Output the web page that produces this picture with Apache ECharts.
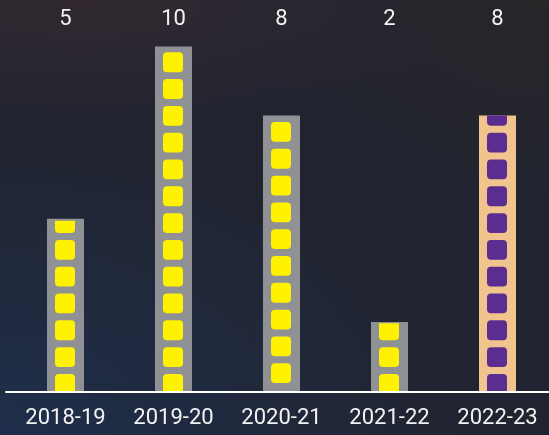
<!DOCTYPE html>
<html><head><meta charset="utf-8">
<script src="https://cdn.jsdelivr.net/npm/echarts@6/dist/echarts.min.js"></script>
<style>html,body{margin:0;padding:0;width:549px;height:435px;overflow:hidden;
background:
radial-gradient(ellipse 460px 300px at 0% 100%, rgba(30,50,84,.75), rgba(30,50,84,0) 100%),
radial-gradient(ellipse 400px 130px at 15% 0%, rgba(56,42,48,.7), rgba(56,42,48,0) 100%),
radial-gradient(ellipse 300px 200px at 100% 0%, rgba(44,38,38,.7), rgba(44,38,38,0) 100%),
#212430;}
#c{width:549px;height:435px}</style></head>
<body><div id="c"></div>
<script>
var categories = ['2018-19','2019-20','2020-21','2021-22','2022-23'];
var values = [5,10,8,2,8];
var barColors = ['#909195','#909195','#909195','#909195','#f0c48c'];
var squareColors = ['#fff200','#fff200','#fff200','#fff200','#5b2d90'];
var squarePhase = [0,0,0.31,0,0];
var topInset = [0.06,0.06,0.06,0.03,0];
var pitch = 0.778, squareSize = 0.575, bottomStart = -0.08;

var chart = echarts.init(document.getElementById('c'));
chart.setOption({
  animation:false,
  grid:[
    {left:11.5,width:540,top:46.5,bottom:44,outerBoundsMode:'none'},
    {left:6,right:0,top:47,bottom:43,outerBoundsMode:'none'}
  ],
  xAxis:[
    {type:'category',data:categories,gridIndex:0,
     axisLine:{show:false},axisTick:{show:false},
     axisLabel:{color:'#f2f2f2',fontFamily:'Roboto',fontSize:22,margin:16,interval:0,hideOverlap:false}},
    {type:'category',data:values.map(String),gridIndex:0,position:'top',
     axisLine:{show:false},axisTick:{show:false},
     axisLabel:{color:'#f2f2f2',fontFamily:'Roboto',fontSize:22,margin:16.5,interval:0,hideOverlap:false}},
    {type:'value',gridIndex:1,min:0,max:1,
     axisLine:{show:true,onZero:false,lineStyle:{color:'#ffffff',width:2}},
     axisTick:{show:false},axisLabel:{show:false},splitLine:{show:false}}
  ],
  yAxis:[
    {type:'value',gridIndex:0,min:0,max:10,show:false},
    {type:'value',gridIndex:1,min:0,max:1,show:false}
  ],
  series:[
    {type:'bar',xAxisIndex:0,yAxisIndex:0,barWidth:37,
     data:values.map(function(v,i){return {value:v,itemStyle:{color:barColors[i]}};})},
    {type:'custom',xAxisIndex:0,yAxisIndex:0,silent:true,z:3,
     data:values.map(function(v,i){return [i,v];}),
     encode:{x:0,y:1},
     renderItem:function(params,api){
       var i=api.value(0), v=api.value(1);
       var cx=Math.floor(api.coord([i,0])[0]);
       var halfW=10, kids=[];
       var ceil=v-topInset[i];
       for(var b=bottomStart+squarePhase[i]; b<ceil; b+=pitch){
         var lo=Math.max(b,0), hi=Math.min(b+squareSize,ceil);
         if(hi<=lo) continue;
         var yTop=api.coord([i,hi])[1], yBot=api.coord([i,lo])[1];
         var r=4;
         var clipT=(b+squareSize>ceil), clipB=(b<0);
         kids.push({type:'rect',
           shape:{x:cx-halfW,y:yTop,width:halfW*2,height:yBot-yTop,
                  r:[clipT?0:r,clipT?0:r,clipB?0:r,clipB?0:r]},
           style:{fill:squareColors[i]}});
       }
       return {type:'group',children:kids};
     }}
  ]
});
</script></body></html>
